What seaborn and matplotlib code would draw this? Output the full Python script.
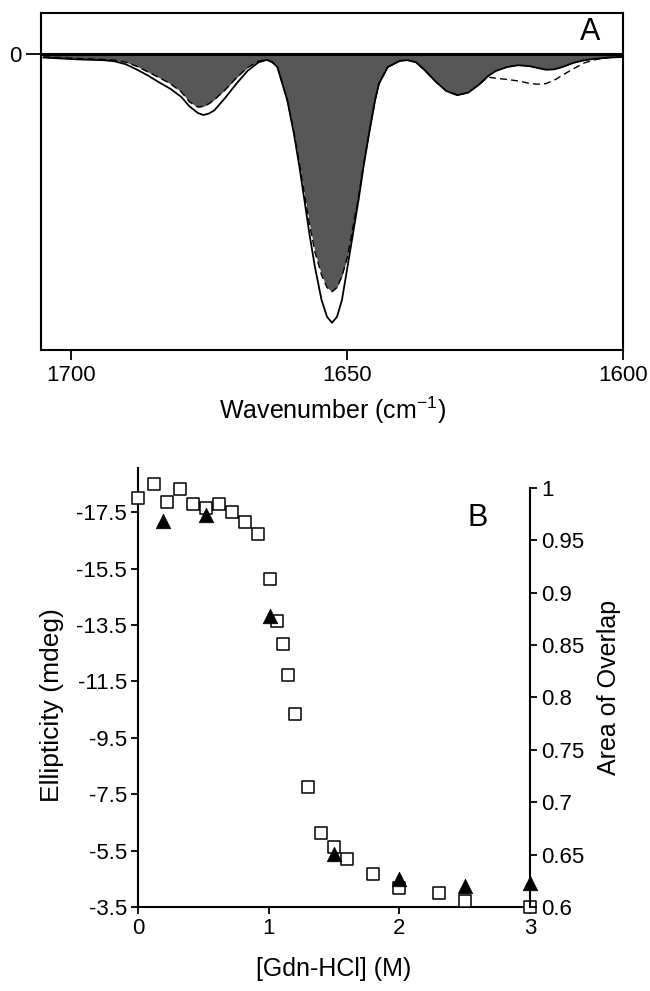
import numpy as np
import matplotlib.pyplot as plt
import matplotlib.ticker as mticker
import seaborn as sns

# panel A: amide I spectra (arbitrary absorbance units, 0 = baseline)
wavenumber = [1705.0, 1702.0, 1699.0, 1696.0, 1694.0, 1692.0, 1690.0, 1688.0, 1686.0, 1684.0,
              1682.0, 1680.0, 1678.5, 1677.0, 1676.0, 1675.0, 1674.0, 1672.0, 1670.0, 1668.0,
              1666.0, 1664.5, 1663.5, 1662.6, 1660.8, 1659.6, 1658.6, 1657.7, 1656.8, 1655.8,
              1654.6, 1653.6, 1652.7, 1651.8, 1650.9, 1649.9, 1648.9, 1647.9, 1647.0, 1646.0,
              1644.9, 1644.2, 1642.6, 1640.4, 1639.0, 1637.5, 1636.0, 1634.0, 1632.0, 1630.0,
              1628.0, 1626.0, 1624.5, 1623.0, 1621.0, 1619.0, 1617.0, 1615.5, 1614.0, 1612.5,
              1611.0, 1609.0, 1607.0, 1605.0, 1602.5, 1600.0]
spectrum_solid = [-0.013, -0.016, -0.019, -0.021, -0.022, -0.026, -0.036, -0.054, -0.074, -0.097,
                  -0.118, -0.146, -0.178, -0.200, -0.207, -0.202, -0.191, -0.148, -0.101, -0.058,
                  -0.029, -0.021, -0.029, -0.045, -0.157, -0.270, -0.382, -0.494, -0.607, -0.719,
                  -0.831, -0.888, -0.908, -0.888, -0.831, -0.719, -0.607, -0.494, -0.382, -0.270,
                  -0.157, -0.101, -0.045, -0.024, -0.022, -0.029, -0.054, -0.093, -0.126, -0.140,
                  -0.131, -0.103, -0.076, -0.058, -0.045, -0.039, -0.042, -0.048, -0.054, -0.053,
                  -0.045, -0.031, -0.022, -0.017, -0.013, -0.011]
spectrum_dashed = [-0.011, -0.013, -0.016, -0.018, -0.020, -0.022, -0.029, -0.043, -0.062, -0.081,
                   -0.101, -0.129, -0.163, -0.180, -0.178, -0.169, -0.155, -0.121, -0.081, -0.047,
                   -0.025, -0.020, -0.029, -0.045, -0.157, -0.264, -0.371, -0.472, -0.573, -0.669,
                   -0.747, -0.789, -0.803, -0.789, -0.751, -0.685, -0.584, -0.483, -0.376, -0.270,
                   -0.157, -0.101, -0.045, -0.024, -0.022, -0.029, -0.054, -0.093, -0.126, -0.140,
                   -0.131, -0.103, -0.079, -0.083, -0.087, -0.092, -0.100, -0.103, -0.101, -0.090,
                   -0.073, -0.051, -0.031, -0.020, -0.013, -0.011]

# panel B: denaturation curves
gdn_cd = [0.0, 0.12, 0.22, 0.32, 0.42, 0.52, 0.62, 0.72, 0.82, 0.92, 1.01, 1.06,
          1.11, 1.15, 1.2, 1.3, 1.4, 1.5, 1.6, 1.8, 2.0, 2.3, 2.5, 3.0]
ellipticity = [-18.01, -18.49, -17.87, -18.31, -17.78, -17.66, -17.78, -17.51, -17.15, -16.71,
               -15.13, -13.64, -12.84, -11.73, -10.33, -7.77, -6.14, -5.64, -5.20, -4.66,
               -4.17, -4.01, -3.71, -3.49]
gdn_ftir = [0.19, 0.52, 1.01, 1.5, 2.0, 2.5, 3.0]
overlap = [0.968, 0.974, 0.878, 0.651, 0.627, 0.620, 0.623]

sns.set_style("ticks")
plt.rcParams['font.family'] = ['Liberation Sans', 'DejaVu Sans']
plt.rcParams['mathtext.fontset'] = 'custom'
plt.rcParams['mathtext.rm'] = 'Liberation Sans'
plt.rcParams['mathtext.default'] = 'regular'
plt.rcParams['axes.unicode_minus'] = False
for k in ['text.color', 'axes.labelcolor', 'xtick.color', 'ytick.color', 'axes.edgecolor']:
    plt.rcParams[k] = 'black'

TICK = 16
LAB = 18

fig = plt.figure(figsize=(6.5, 9.91), dpi=100)

# ---- panel A
axA = fig.add_axes([0.0631, 0.6468, 0.8954, 0.340])
axA.fill_between(wavenumber, 0, np.maximum(spectrum_solid, spectrum_dashed),
                 color='#575757', lw=0, zorder=1)
sns.lineplot(x=wavenumber, y=spectrum_solid, ax=axA, color='black', lw=1.3,
             estimator=None, sort=False, zorder=3)
sns.lineplot(x=wavenumber, y=spectrum_dashed, ax=axA, color='black', lw=1.0,
             linestyle=(0, (5, 3)), estimator=None, sort=False, zorder=3)
axA.axhline(0, color='black', lw=2.2, zorder=4)
axA.set_xlim(1705.4, 1600)
axA.set_ylim(-1.0, 0.137)
axA.set_xticks([1700, 1650, 1600])
axA.set_yticks([0])
axA.set_yticklabels(['0'])
axA.tick_params(axis='x', length=7, width=1.3, labelsize=TICK, pad=4)
axA.tick_params(axis='y', length=11, width=1.3, labelsize=TICK, pad=3)
for sp in axA.spines.values():
    sp.set_linewidth(1.5)
axA.set_xlabel('Wavenumber (cm$^{-1}$)', fontsize=LAB, labelpad=6)
axA.text(0.943, 0.944, 'A', transform=axA.transAxes, fontsize=22,
         ha='center', va='center')

# ---- panel B
axB = fig.add_axes([0.2123, 0.0848, 0.6031, 0.443])
sns.scatterplot(x=gdn_cd, y=ellipticity, ax=axB, marker='s', s=70, color='white',
                edgecolor='black', linewidth=1.1, clip_on=False, zorder=3)
axB.set_xlim(0, 3)
axB.set_ylim(-3.5, -19.07)
axB.set_xticks([0, 1, 2, 3])
axB.set_yticks([-17.5, -15.5, -13.5, -11.5, -9.5, -7.5, -5.5, -3.5])
axB.yaxis.set_major_formatter(mticker.FormatStrFormatter('%g'))
axB.tick_params(length=5, width=1.3, labelsize=TICK, pad=3)
axB.spines['top'].set_visible(False)
axB.spines['right'].set_visible(False)
axB.spines['left'].set_linewidth(1.5)
axB.spines['bottom'].set_linewidth(1.5)
axB.set_xlabel('[Gdn-HCl] (M)', fontsize=LAB, labelpad=13)
axB.set_ylabel('Ellipticity (mdeg)', fontsize=LAB + 1)
axB.yaxis.set_label_coords(-0.19, 0.46)

ax2 = axB.twinx()
sns.scatterplot(x=gdn_ftir, y=overlap, ax=ax2, marker='^', s=110, color='black',
                edgecolor='black', linewidth=0.5, clip_on=False, zorder=4)
ax2.set_ylim(0.6, 1.019)
ax2.set_yticks([0.6, 0.65, 0.7, 0.75, 0.8, 0.85, 0.9, 0.95, 1.0])
ax2.yaxis.set_major_formatter(mticker.FormatStrFormatter('%g'))
ax2.tick_params(length=5, width=1.3, labelsize=TICK, pad=3)
for s in ['top', 'left', 'bottom']:
    ax2.spines[s].set_visible(False)
ax2.spines['right'].set_linewidth(1.5)
ax2.spines['right'].set_bounds(0.6, 1.0)
ax2.set_ylabel('Area of Overlap', fontsize=LAB, labelpad=9)
axB.text(0.867, 0.886, 'B', transform=axB.transAxes, fontsize=22,
         ha='center', va='center')

fig.savefig('out.png', dpi=100)
